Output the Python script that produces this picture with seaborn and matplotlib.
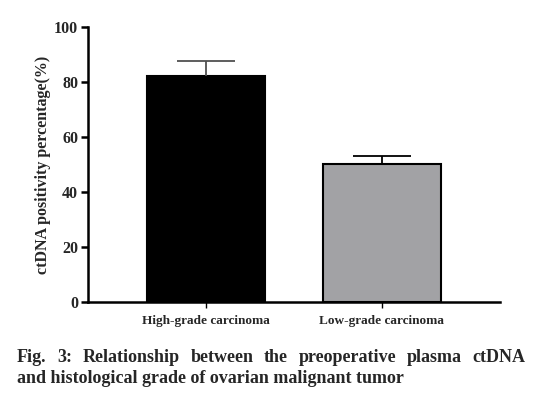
import matplotlib
matplotlib.use("Agg")
import matplotlib.pyplot as plt
import seaborn as sns
import pandas as pd

categories = ["High-grade carcinoma", "Low-grade carcinoma"]
values = [82.2, 50.1]
errors = [5.3, 3.1]
bar_colors = ["#000000", "#a2a1a6"]
err_colors = ["#505050", "#000000"]
yticks = [0, 20, 40, 60, 80, 100]
caption1 = "Fig. 3: Relationship between the preoperative plasma ctDNA"
caption2 = "and histological grade of ovarian malignant tumor"

sns.set_theme(style="ticks")
plt.rcParams['font.family'] = ['Liberation Serif', 'DejaVu Serif']

df = pd.DataFrame({"grade": categories, "pct": values})

fig = plt.figure(figsize=(5.33, 3.94), dpi=100)
ax = fig.add_axes([0.165, 0.2335, 0.773, 0.698])
sns.barplot(data=df, x="grade", y="pct", hue="grade", palette=bar_colors,
            width=0.67, errorbar=None, legend=False, ax=ax,
            edgecolor="black", linewidth=1.5)
for i, (v, e) in enumerate(zip(values, errors)):
    _, caps, _ = ax.errorbar(i, v, yerr=[[0], [e]], fmt="none", ecolor=err_colors[i],
                             elinewidth=1.3, capsize=21, capthick=1.3, zorder=1)
    if len(caps) == 2:
        caps[0].set_visible(False)

ax.set_xlim(-0.67, 1.67)
ax.set_ylim(0, 100)
ax.set_yticks(yticks)
ax.set_yticklabels([str(t) for t in yticks], fontsize=11.5, fontweight="bold")
ax.set_xticks([0, 1])
ax.set_xticklabels(categories, fontsize=9.5, fontweight="bold")
ax.set_xlabel("")
ax.set_ylabel("ctDNA positivity percentage(%)", fontsize=11.5, fontweight="bold", labelpad=2)
for s in ["top", "right"]:
    ax.spines[s].set_visible(False)
for s in ["left", "bottom"]:
    ax.spines[s].set_linewidth(1.8)
    ax.spines[s].set_color("black")
ax.tick_params(axis="y", length=5, width=1.8, color="black", pad=2)
ax.tick_params(axis="x", length=4, width=1.0, color="black", pad=5)

# caption: first line justified between x=17 and x=525 px
fs = 13
left_px, right_px = 17, 525
W, H = fig.get_size_inches() * fig.dpi
renderer = fig.canvas.get_renderer()
words = caption1.split(" ")
texts = [fig.text(0, 0.081, w, fontsize=fs, fontweight="bold", ha="left", va="baseline") for w in words]
widths = [t.get_window_extent(renderer=renderer).width for t in texts]
gap = (right_px - left_px - sum(widths)) / (len(words) - 1)
x = left_px
for t, w in zip(texts, widths):
    t.set_x(x / W)
    x += w + gap
fig.text(left_px / W, 0.028, caption2, fontsize=fs, fontweight="bold", ha="left", va="baseline")

fig.savefig("out.png", dpi=100)
